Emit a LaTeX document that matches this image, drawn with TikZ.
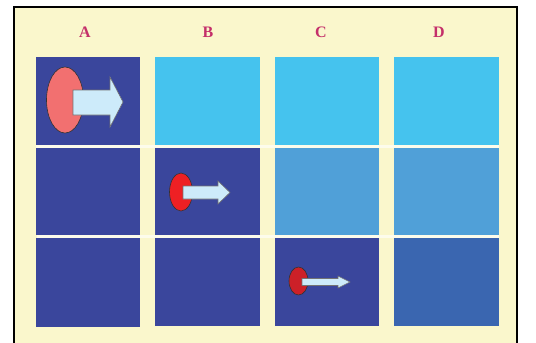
\documentclass[tikz,border=0pt]{standalone}
\usepackage{fontspec}
\setmainfont{Liberation Serif}
\definecolor{cream}{HTML}{FAF7CC}
\definecolor{dkblue}{HTML}{3A469C}
\definecolor{cyanb}{HTML}{45C3EE}
\definecolor{midblue}{HTML}{50A0D8}
\definecolor{dblue}{HTML}{3A66B0}
\definecolor{lab}{HTML}{C4306A}
\definecolor{pinkr}{HTML}{F27070}
\definecolor{redb}{HTML}{EE2024}
\definecolor{redc}{HTML}{CC2028}
\definecolor{arr}{HTML}{CDEBFA}
\begin{document}
\begin{tikzpicture}[x=1pt,y=-1pt,
  lbl/.style={text=lab,font=\fontsize{16}{16}\selectfont\bfseries,inner sep=0pt},
  blob/.style={draw=black!80,line width=0.6pt},
  arrowshape/.style={fill=arr,draw=black!55,line width=0.6pt,line join=miter}]
\useasboundingbox (0,0) rectangle (536,343);
\clip (0,0) rectangle (536,343);
\fill[white] (0,0) rectangle (536,343);
\fill[cream] (14,7) rectangle (517,360);
\draw[black,line width=2pt] (14,7) rectangle (517,360);
% labels
\node[lbl] (la) at (85,32) {A};
\node[lbl] (lb) at (208,32) {B};
\node[lbl] (lc) at (321,32) {C};
\node[lbl] (ld) at (439,32) {D};
% column A
\fill[dkblue] (35.5,56.5) rectangle (139.5,145);
\fill[dkblue] (35.5,147.5) rectangle (139.5,234.5);
\fill[dkblue] (35.5,238) rectangle (139.5,327);
% column B
\fill[cyanb] (155,56.5) rectangle (260,145);
\fill[dkblue] (155,147.5) rectangle (260,234.5);
\fill[dkblue] (155,238) rectangle (260,326);
% column C
\fill[cyanb] (275,56.5) rectangle (379,145);
\fill[midblue] (275,147.5) rectangle (379,234.5);
\fill[dkblue] (275,238) rectangle (379,326);
% column D
\fill[cyanb] (394,56.5) rectangle (499,145);
\fill[midblue] (394,147.5) rectangle (499,234.5);
\fill[dblue] (394,238) rectangle (499,326);
% separating lines
\fill[white!60!cream] (35.5,145) rectangle (499,147.5);
\fill[white!60!cream] (37,234.5) rectangle (499,238);
% A shapes
\draw[blob,fill=pinkr] (65,100) ellipse [x radius=18.5, y radius=33];
\draw[arrowshape] (73,90) -- (110,90) -- (110,77) -- (123,102) -- (110,127) -- (110,115) -- (73,115) -- cycle;
% B shapes
\draw[blob,fill=redb] (181,192) ellipse [x radius=11.5, y radius=19];
\draw[arrowshape] (183,186) -- (218,186) -- (218,181) -- (230,192.5) -- (218,204) -- (218,199) -- (183,199) -- cycle;
% C shapes
\draw[blob,fill=redc] (298.5,281) ellipse [x radius=9.5, y radius=14];
\draw[arrowshape] (302,278.5) -- (338,278.5) -- (338,276) -- (350,282) -- (338,288) -- (338,285.5) -- (302,285.5) -- cycle;
\end{tikzpicture}
\end{document}
